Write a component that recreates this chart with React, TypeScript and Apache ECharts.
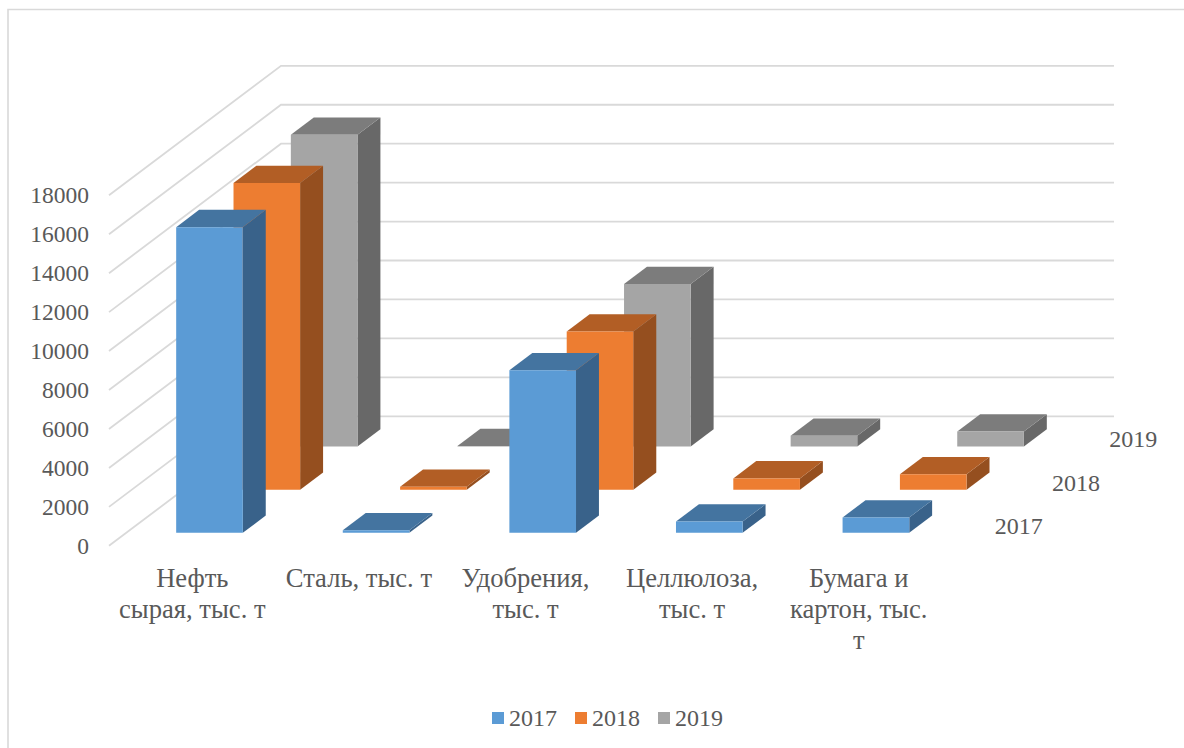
import React, { useEffect, useRef } from "react";
import * as echarts from "echarts";

const categories = [
  "Нефть\nсырая, тыс. т",
  "Сталь, тыс. т",
  "Удобрения,\nтыс. т",
  "Целлюлоза,\nтыс. т",
  "Бумага и\nкартон, тыс.\nт",
];
const seriesNames = ["2017", "2018", "2019"];
const values2017 = [15700, 130, 8345, 580, 790];
const values2018 = [15750, 150, 8125, 580, 790];
const values2019 = [16010, 30, 8350, 550, 770];
const tickValues = [0, 2000, 4000, 6000, 8000, 10000, 12000, 14000, 16000, 18000];

const frontColors = ["#5B9BD5", "#ED7D31", "#A5A5A5"];
const topColors = ["#4474A0", "#B25E25", "#7C7C7C"];
const sideColors = ["#39628A", "#954F1F", "#686868"];

const FONT = '"Liberation Serif", "Times New Roman", serif';
const TEXT = "#595959";
const ROW_DX = 57.33;
const ROW_DY = -43.17;
const ROW_GAP = 0.3;
const BAR_DEPTH = 0.4;
const BAR_WIDTH = 0.4;

function barRenderer(row: number) {
  return (params: any, api: any) => {
    const c = api.value(0);
    const v = api.value(1);
    const base = api.coord([c, 0]);
    const top = api.coord([c, v]);
    const w = api.size([1, 0])[0] * BAR_WIDTH;
    const sx = (row + ROW_GAP) * ROW_DX;
    const sy = (row + ROW_GAP) * ROW_DY;
    const dx = BAR_DEPTH * ROW_DX;
    const dy = BAR_DEPTH * ROW_DY;
    const x0 = base[0] - w / 2 + sx;
    const x1 = x0 + w;
    const yb = base[1] + sy;
    const yt = top[1] + sy;
    return {
      type: "group",
      children: [
        {
          type: "polygon",
          shape: { points: [[x1, yb], [x1 + dx, yb + dy], [x1 + dx, yt + dy], [x1, yt]] },
          style: { fill: sideColors[row] },
        },
        {
          type: "polygon",
          shape: { points: [[x0, yt], [x1, yt], [x1 + dx, yt + dy], [x0 + dx, yt + dy]] },
          style: { fill: topColors[row] },
        },
        {
          type: "rect",
          shape: { x: x0, y: yt, width: w, height: yb - yt },
          style: { fill: frontColors[row] },
        },
      ],
    };
  };
}

function wallRenderer(params: any, api: any) {
  const v = api.value(1);
  const y = api.coord([0, v])[1];
  const cs = params.coordSys;
  const bx = cs.x + 3 * ROW_DX;
  const by = y + 3 * ROW_DY;
  return {
    type: "polyline",
    shape: { points: [[cs.x, y], [bx, by], [bx + cs.width, by]] },
    style: { stroke: "#D9D9D9", lineWidth: 1.8, fill: "none" },
  };
}

function depthLabelRenderer(params: any, api: any) {
  const i = api.value(0);
  const cs = params.coordSys;
  const y = api.coord([0, 0])[1] + (i + 0.5) * ROW_DY;
  const x = cs.x + cs.width + (i + 0.5) * ROW_DX + 24;
  return {
    type: "text",
    x,
    y: y + 1.5,
    style: {
      text: seriesNames[i],
      fill: TEXT,
      font: `24px ${FONT}`,
      textAlign: "left",
      textVerticalAlign: "middle",
    },
  };
}

const seriesValues = [values2017, values2018, values2019];

export default function App() {
  const ref = useRef<HTMLDivElement>(null);
  useEffect(() => {
    document.body.style.margin = "0";
    const chart = echarts.init(ref.current!, undefined, { renderer: "svg" });
    chart.setOption({
      animation: false,
      backgroundColor: "#FFFFFF",
      graphic: [
        {
          type: "rect",
          silent: true,
          shape: { x: 8, y: 9.5, width: 1400, height: 1000 },
          style: { fill: "none", stroke: "#D9D9D9", lineWidth: 1.6 },
        },
      ],
      legend: {
        data: seriesNames,
        left: 492,
        top: 706,
        icon: "rect",
        itemWidth: 12,
        itemHeight: 12,
        itemGap: 18,
        textStyle: { fontFamily: FONT, fontSize: 24, color: TEXT },
        padding: 0,
      },
      grid: { left: 109, top: 195.3, width: 833, height: 350.5 },
      xAxis: {
        type: "category",
        data: categories,
        axisLine: { show: false },
        axisTick: { show: false },
        splitLine: { show: false },
        axisLabel: {
          interval: 0,
          margin: 17,
          fontFamily: FONT,
          fontSize: 26.6,
          lineHeight: 31,
          color: TEXT,
          align: "center",
        },
      },
      yAxis: {
        type: "value",
        min: 0,
        max: 18000,
        interval: 2000,
        axisLine: { show: false },
        axisTick: { show: false },
        splitLine: { show: false },
        axisLabel: {
          margin: 20,
          fontFamily: FONT,
          fontSize: 23.5,
          color: TEXT,
          formatter: (v: number) => String(v),
        },
      },
      series: [
        {
          type: "custom",
          name: "walls",
          z: 1,
          silent: true,
          renderItem: wallRenderer,
          data: tickValues.map((v) => [0, v]),
          encode: { x: 0, y: 1 },
        },
        ...seriesNames.map((name, row) => ({
          type: "custom",
          name,
          z: 5 - row,
          itemStyle: { color: frontColors[row] },
          renderItem: barRenderer(row),
          data: seriesValues[row].map((v, c) => [c, v]),
          encode: { x: 0, y: 1 },
        })),
        {
          type: "custom",
          name: "depth",
          z: 6,
          silent: true,
          renderItem: depthLabelRenderer,
          data: seriesNames.map((_, i) => [i, 0]),
          encode: { x: 0, y: 1 },
        },
      ],
    });
    return () => chart.dispose();
  }, []);
  return <div ref={ref} style={{ position: "absolute", left: 0, top: 0, width: 1184, height: 748 }} />;
}
